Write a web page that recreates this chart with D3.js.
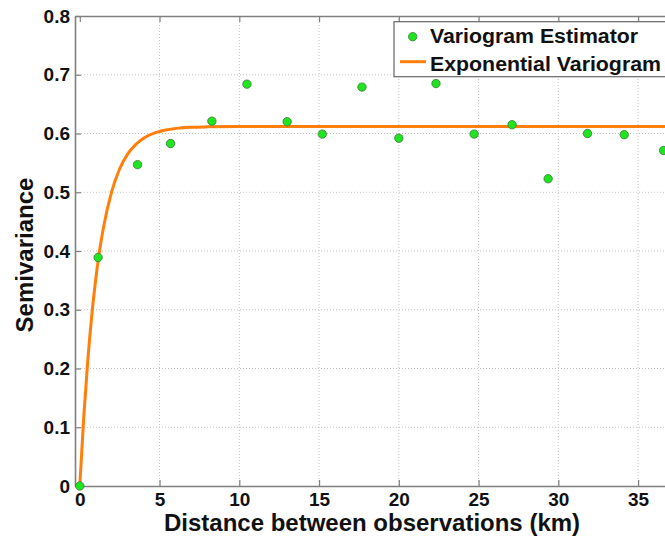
<!DOCTYPE html>
<html>
<head>
<meta charset="utf-8">
<script src="https://cdn.jsdelivr.net/npm/d3@7"></script>
<style>
  html, body { margin: 0; padding: 0; background: #fff; overflow: hidden; }
  svg { display: block; font-family: "Liberation Sans", Arial, Helvetica, sans-serif; }
</style>
</head>
<body>
<svg id="chart" width="665" height="537"></svg>
<script>
// Empirical variogram: lag distance (km) and semivariance
const lagDistance = [0, 1.15, 3.62, 5.69, 8.28, 10.48, 13.0, 15.2, 17.69, 20.0, 22.33, 24.72, 27.1, 29.36, 31.83, 34.13, 36.6];
const semivariance = [0, 0.389, 0.547, 0.583, 0.621, 0.684, 0.620, 0.599, 0.679, 0.592, 0.685, 0.599, 0.615, 0.523, 0.600, 0.598, 0.571];

// Fitted exponential model, sampled along distance
const modelDistance = [0, 0.25, 0.5, 0.75, 1.0, 1.25, 1.5, 2.0, 2.5, 3.0, 3.5, 4.0, 5.0, 6.0, 7.0, 8.0, 10.0, 15.0, 20.0, 25.0, 30.0, 35.0, 37.0];
const modelValue = [0, 0.118, 0.213, 0.290, 0.352, 0.402, 0.442, 0.501, 0.540, 0.565, 0.581, 0.592, 0.6035, 0.6084, 0.6105, 0.6113, 0.6119, 0.612, 0.612, 0.612, 0.612, 0.612, 0.612];

const xTicks = [0, 5, 10, 15, 20, 25, 30, 35];
const yTicks = [0, 0.1, 0.2, 0.3, 0.4, 0.5, 0.6, 0.7, 0.8];

const legendLabels = ["Variogram Estimator", "Exponential Variogram"];

const svg = d3.select("#chart");
const plotLeft = 75, plotRight = 670, plotTop = 16, plotBottom = 486;

const x = d3.scaleLinear().domain([-0.3, 37.0]).range([plotLeft, plotRight]);
const y = d3.scaleLinear().domain([0, 0.8]).range([plotBottom, plotTop]);

const axisColor = "#7f7f7f";
const gridColor = "#c4c4c4";
const lineColor = "#ff7f0a";
const dotFill = "#1ee51e";
const dotStroke = "#3a7a3a";

// grid
const grid = svg.append("g");
grid.selectAll("line.gx").data(xTicks.filter(t => t > 0)).join("line")
  .attr("x1", d => x(d)).attr("x2", d => x(d))
  .attr("y1", plotTop).attr("y2", plotBottom)
  .attr("stroke", gridColor).attr("stroke-width", 1).attr("stroke-dasharray", "1,2");
grid.selectAll("line.gy").data(yTicks.filter(t => t > 0 && t < 0.8)).join("line")
  .attr("x1", plotLeft).attr("x2", plotRight)
  .attr("y1", d => y(d)).attr("y2", d => y(d))
  .attr("stroke", gridColor).attr("stroke-width", 1).attr("stroke-dasharray", "1,2");

// axes (inward ticks)
const xAxis = d3.axisBottom(x).tickValues(xTicks).tickSizeInner(-6).tickSizeOuter(0).tickPadding(7).tickFormat(d3.format("d"));
const yAxis = d3.axisLeft(y).tickValues(yTicks).tickSizeInner(-6).tickSizeOuter(0).tickPadding(5).tickFormat(d => d === 0 ? "0" : d3.format(".1f")(d));
const xTop = d3.axisTop(x).tickValues(xTicks).tickSizeInner(-6).tickSizeOuter(0).tickFormat("");

function styleAxis(g) {
  g.select(".domain").attr("stroke", axisColor).attr("stroke-width", 1.6);
  g.selectAll(".tick line").attr("stroke", axisColor).attr("stroke-width", 1.2);
  g.selectAll(".tick text").attr("fill", "#111").attr("font-size", 19).attr("font-weight", "bold");
}
svg.append("g").attr("transform", `translate(0,${plotBottom})`).call(xAxis).call(styleAxis);
svg.append("g").attr("transform", `translate(${plotLeft},0)`).call(yAxis).call(styleAxis);
svg.append("g").attr("transform", `translate(0,${plotTop})`).call(xTop).call(styleAxis);

// fitted model curve
const line = d3.line().x((d, i) => x(modelDistance[i])).y(d => y(d)).curve(d3.curveMonotoneX);
svg.append("path").datum(modelValue)
  .attr("d", line).attr("fill", "none")
  .attr("stroke", lineColor).attr("stroke-width", 3).attr("stroke-linejoin", "round");

// empirical points
svg.append("g").selectAll("circle").data(semivariance).join("circle")
  .attr("cx", (d, i) => x(lagDistance[i])).attr("cy", d => y(d))
  .attr("r", 4.2).attr("fill", dotFill).attr("stroke", dotStroke).attr("stroke-width", 0.8);

// axis titles
svg.append("text").attr("x", 372).attr("y", 530.5)
  .attr("text-anchor", "middle").attr("font-size", 24).attr("font-weight", "bold").attr("fill", "#111")
  .text("Distance between observations (km)");
svg.append("text").attr("transform", `translate(33,255) rotate(-90)`)
  .attr("text-anchor", "middle").attr("font-size", 24).attr("font-weight", "bold").attr("fill", "#111")
  .text("Semivariance");

// legend
const lg = svg.append("g");
lg.append("rect").attr("x", 394).attr("y", 21.7).attr("width", 280).attr("height", 55)
  .attr("fill", "#fff").attr("stroke", "#666").attr("stroke-width", 1.2);
lg.append("circle").attr("cx", 412.7).attr("cy", 36.7).attr("r", 4.2)
  .attr("fill", dotFill).attr("stroke", dotStroke).attr("stroke-width", 0.8);
lg.append("line").attr("x1", 400).attr("x2", 426).attr("y1", 61.7).attr("y2", 61.7)
  .attr("stroke", lineColor).attr("stroke-width", 3);
const legendWidths = [208, 231];
lg.selectAll("text").data(legendLabels).join("text")
  .attr("x", 430).attr("y", (d, i) => 43.3 + i * 27.2)
  .attr("font-size", 20).attr("font-weight", "bold").attr("fill", "#111")
  .attr("textLength", (d, i) => legendWidths[i]).attr("lengthAdjust", "spacingAndGlyphs")
  .text(d => d);
</script>
</body>
</html>
